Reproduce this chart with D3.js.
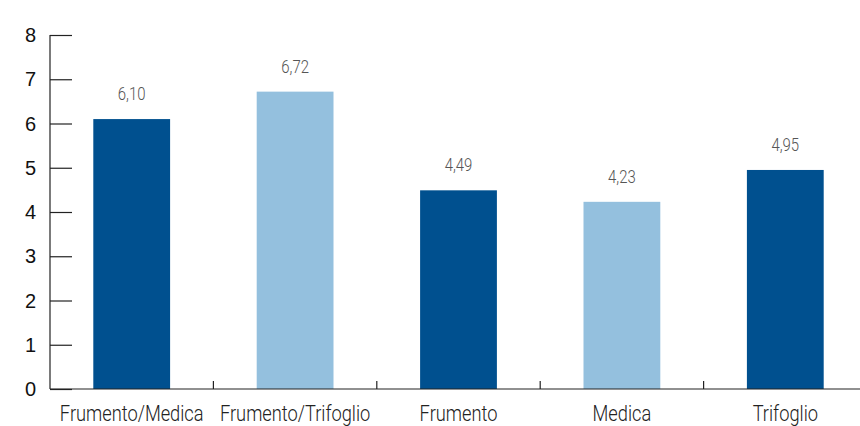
<!DOCTYPE html>
<html>
<head>
<meta charset="utf-8">
<script src="https://cdn.jsdelivr.net/npm/d3@7"></script>
<style>
	body { margin: 0; background: #fff; }
	svg { display: block; }
	.ylab { font-family: "Liberation Sans", Arial, sans-serif; font-size: 20px; fill: #111; }
	.xlab { font-family: Roboto, "Liberation Sans", sans-serif; font-weight: 300; font-size: 22px; fill: #222; }
	.val { font-family: Roboto, "Liberation Sans", sans-serif; font-weight: 300; font-size: 18px; fill: #555; }
</style>
</head>
<body>
<div id="chart"></div>
<script>
var categories = ["Frumento/Medica", "Frumento/Trifoglio", "Frumento", "Medica", "Trifoglio"];
var values = [6.10, 6.72, 4.49, 4.23, 4.95];
var colors = ["#00508f", "#94c0de", "#00508f", "#94c0de", "#00508f"];
var yTicks = [0, 1, 2, 3, 4, 5, 6, 7, 8];

var width = 860, height = 426;
var plotLeft = 50, plotRight = 867, plotTop = 35, plotBottom = 389;
var narrow = 0.83; // condensed look of the original typeface

var svg = d3.select("#chart").append("svg")
	.attr("width", width)
	.attr("height", height);

var x = d3.scaleBand()
	.domain(categories)
	.range([plotLeft, plotRight])
	.paddingInner(0.53)
	.paddingOuter(0.265);

var y = d3.scaleLinear()
	.domain([0, 8])
	.range([plotBottom, plotTop]);

function fmt(v) {
	return v.toFixed(2).replace(".", ",");
}

// bars
svg.append("g")
	.selectAll("rect")
	.data(values)
	.enter()
		.append("rect")
			.attr("x", function (d, i) { return x(categories[i]); })
			.attr("y", function (d) { return y(d); })
			.attr("width", x.bandwidth())
			.attr("height", function (d) { return plotBottom - y(d); })
			.attr("fill", function (d, i) { return colors[i]; });

// value labels
svg.append("g")
	.selectAll("text")
	.data(values)
	.enter()
		.append("text")
			.attr("class", "val")
			.attr("transform", function (d, i) {
				return "translate(" + (x(categories[i]) + x.bandwidth() / 2) + "," + (y(d) - 19) + ") scale(" + narrow + ",1)";
			})
			.attr("text-anchor", "middle")
			.text(fmt);

// y axis
var yAxis = d3.axisRight(y)
	.tickValues(yTicks)
	.tickSize(22)
	.tickFormat("");
var gy = svg.append("g")
	.attr("transform", "translate(" + plotLeft + ",0)")
	.call(yAxis);
gy.select(".domain").attr("stroke", "#222").attr("stroke-width", 1.2).attr("d", "M0," + plotTop + "V" + plotBottom);
gy.selectAll(".tick line").attr("stroke", "#222").attr("stroke-width", 1.2);

svg.append("g")
	.selectAll("text")
	.data(yTicks)
	.enter()
		.append("text")
			.attr("class", "ylab")
			.attr("x", plotLeft - 14)
			.attr("y", function (d) { return y(d) + 7; })
			.attr("text-anchor", "end")
			.text(function (d) { return d; });

// x axis
var step = x.step();
svg.append("line")
	.attr("x1", plotLeft).attr("x2", width)
	.attr("y1", plotBottom).attr("y2", plotBottom)
	.attr("stroke", "#222").attr("stroke-width", 1.2);

svg.append("g")
	.selectAll("line")
	.data(categories.slice(1))
	.enter()
		.append("line")
			.attr("x1", function (d) { return x(d) - step * x.paddingInner() / 2; })
			.attr("x2", function (d) { return x(d) - step * x.paddingInner() / 2; })
			.attr("y1", plotBottom - 8)
			.attr("y2", plotBottom)
			.attr("stroke", "#222").attr("stroke-width", 1.2);

svg.append("g")
	.selectAll("text")
	.data(categories)
	.enter()
		.append("text")
			.attr("class", "xlab")
			.attr("transform", function (d) {
				return "translate(" + (x(d) + x.bandwidth() / 2) + ",421) scale(" + narrow + ",1)";
			})
			.attr("text-anchor", "middle")
			.text(function (d) { return d; });
</script>
</body>
</html>
